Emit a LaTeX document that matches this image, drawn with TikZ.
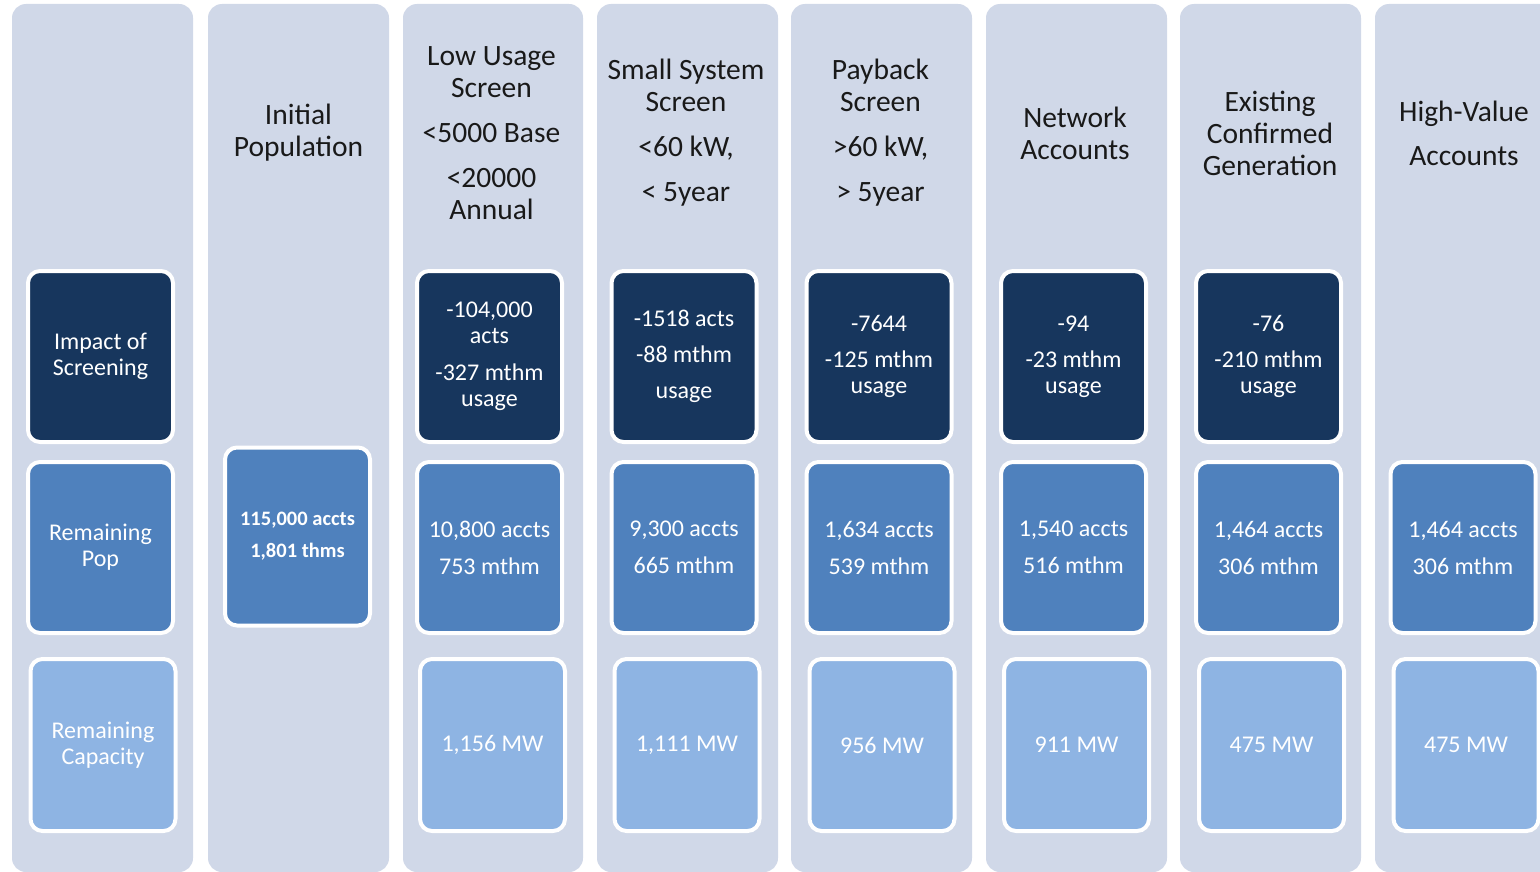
\documentclass[tikz,border=0pt]{standalone}
\usepackage{fontspec}
\setmainfont{Carlito}

\definecolor{panel}{HTML}{D0D8E8}
\definecolor{darkbox}{HTML}{17365D}
\definecolor{midbox}{HTML}{4F81BD}
\definecolor{lightbox}{HTML}{8EB4E3}

\begin{document}
\begin{tikzpicture}[x=1pt, y=-1pt,
    head/.style={align=center, text=black!90, font=\fontsize{29.5}{32}\selectfont},
    card/.style={draw=white, line width=4pt, rounded corners=12pt, inner sep=0pt,
        minimum width=145pt, minimum height=171pt, align=center, text=white,
        font=\fontsize{24}{26}\selectfont},
    impact/.style={card, fill=darkbox},
    remain/.style={card, fill=midbox},
    capac/.style={card, fill=lightbox, minimum height=172pt}]

    % Page
    \fill[white] (0,0) rectangle (1540,872);
    \useasboundingbox (0,0) rectangle (1540,872);

    % Column panels
    \fill[panel, rounded corners=14pt] (12,4) rectangle (193,872);
    \fill[panel, rounded corners=14pt] (208,4) rectangle (389,872);
    \fill[panel, rounded corners=14pt] (403,4) rectangle (583,872);
    \fill[panel, rounded corners=14pt] (597,4) rectangle (778,872);
    \fill[panel, rounded corners=14pt] (791,4) rectangle (972,872);
    \fill[panel, rounded corners=14pt] (986,4) rectangle (1167,872);
    \fill[panel, rounded corners=14pt] (1180,4) rectangle (1361,872);
    \fill[panel, rounded corners=14pt] (1375,4) rectangle (1556,872);

    % Column headings
    \node[head] (h2) at (298.5,133) {Initial\\Population};
    \node[head] (h3) at (491.5,133) {Low Usage\\Screen\\[13pt]<5000 Base\\[13pt]<20000\\Annual};
    \node[head] (h4) at (686,133) {Small System\\Screen\\[13pt]<60 kW,\\[13pt]< 5year};
    \node[head] (h5) at (880.5,133) {Payback\\Screen\\[13pt]>60 kW,\\[13pt]> 5year};
    \node[head] (h6) at (1075,133) {Network\\Accounts};
    \node[head] (h7) at (1270,133) {Existing\\Confirmed\\Generation};
    \node[head] (h8) at (1464,133) {High-Value\\[12pt]Accounts};

    % Impact of screening
    \node[impact] (imp1) at (100.5,356.5) {Impact of\\Screening};
    \node[impact] (imp3) at (489.5,356.5) {-104,000\\acts\\[11pt]-327 mthm\\usage};
    \node[impact] (imp4) at (684,356.5) {-1518 acts\\[10pt]-88 mthm\\[10pt]usage};
    \node[impact] (imp5) at (879,356.5) {-7644\\[10pt]-125 mthm\\usage};
    \node[impact] (imp6) at (1073.5,356.5) {-94\\[10pt]-23 mthm\\usage};
    \node[impact] (imp7) at (1268.5,356.5) {-76\\[10pt]-210 mthm\\usage};

    % Remaining population
    \node[remain] (pop1) at (100.5,547.5) {Remaining\\Pop};
    \node[remain, minimum height=178pt, font=\bfseries\fontsize{20.5}{24}\selectfont]
        (pop2) at (297.5,536.5) {115,000 accts\\[8pt]1,801 thms};
    \node[remain] (pop3) at (489.5,547.5) {10,800 accts\\[11pt]753 mthm};
    \node[remain] (pop4) at (684,547.5) {9,300 accts\\[11pt]665 mthm};
    \node[remain] (pop5) at (879,547.5) {1,634 accts\\[11pt]539 mthm};
    \node[remain] (pop6) at (1073.5,547.5) {1,540 accts\\[11pt]516 mthm};
    \node[remain] (pop7) at (1268.5,547.5) {1,464 accts\\[11pt]306 mthm};
    \node[remain] (pop8) at (1463,547.5) {1,464 accts\\[11pt]306 mthm};

    % Remaining capacity
    \node[capac] (cap1) at (103,745) {Remaining\\Capacity};
    \node[capac] (cap3) at (492.5,745) {1,156 MW};
    \node[capac] (cap4) at (687,745) {1,111 MW};
    \node[capac] (cap5) at (882,745) {956 MW};
    \node[capac] (cap6) at (1076.5,745) {911 MW};
    \node[capac] (cap7) at (1271.5,745) {475 MW};
    \node[capac] (cap8) at (1466,745) {475 MW};

\end{tikzpicture}
\end{document}
